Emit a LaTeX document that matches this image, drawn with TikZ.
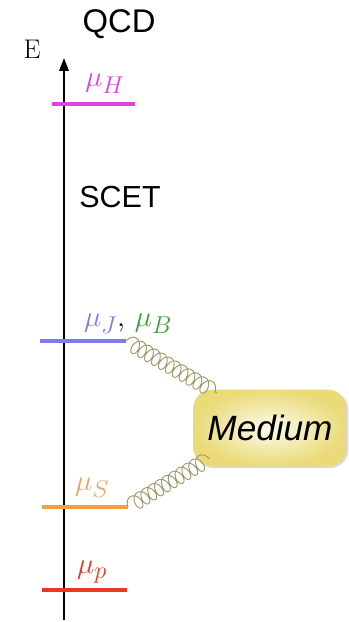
\documentclass[tikz,border=0pt]{standalone}
\usepackage{fontspec}
\setsansfont{Liberation Sans}
\usetikzlibrary{decorations.pathmorphing,shadows,arrows.meta}
\definecolor{cH}{HTML}{DD44DD}
\definecolor{cJ}{HTML}{7C7CEC}
\definecolor{cB}{HTML}{38A038}
\definecolor{cS}{HTML}{F2A040}
\definecolor{cSt}{HTML}{F0A060}
\definecolor{cP}{HTML}{E83A22}
\definecolor{glu}{HTML}{9E9A6C}
\definecolor{medout}{HTML}{EADA78}
\definecolor{medin}{HTML}{FDFBEA}
\begin{document}
\begin{tikzpicture}[x=0.03cm,y=-0.03cm,
  lvl/.style={line width=3pt},
  lab/.style={inner sep=0pt,font=\fontsize{32}{32}\selectfont},
  word/.style={inner sep=0pt,font=\sffamily\fontsize{26}{26}\selectfont},
  gluon/.style={glu,line width=0.8pt,decorate,decoration={coil,aspect=0.7,segment length=6.8pt,amplitude=6.6pt}},
  medium/.style={rounded corners=16pt,inner sep=0pt,
     shading=radial,inner color=medin,outer color=medout,
     drop shadow={shadow xshift=1.5pt,shadow yshift=-1.5pt,opacity=0.3},
     font=\sffamily\itshape\fontsize{30}{30}\selectfont}]
\useasboundingbox (0,0) rectangle (349,622);
% axis
\coordinate (bot) at (64,620);
\coordinate (top) at (64,58);
\draw[line width=1.6pt,-{Triangle[length=11pt,width=8pt]}] (bot) -- (top);
\node[font=\fontsize{23}{23}\selectfont,inner sep=0pt] (E) at (32,49) {E};
\node[word,font=\sffamily\fontsize{28}{28}\selectfont] (qcd) at (119,24) {QCD};
\node[word] (scet) at (120,197) {SCET};
% levels
\coordinate (hL) at (52,104); \coordinate (hR) at (135,104);
\draw[lvl,draw=cH] (hL) -- (hR);
\node[lab,text=cH] (muH) at (105,84) {$\mu_H$};
\coordinate (jL) at (40,341); \coordinate (jR) at (126,341);
\draw[lvl,draw=cJ] (jL) -- (jR);
\node[lab] (muJB) at (128,324) {$\textcolor{cJ}{\mu_J},\,\textcolor{cB}{\mu_B}$};
\coordinate (sL) at (42,507); \coordinate (sR) at (128,507);
\draw[lvl,draw=cS] (sL) -- (sR);
\node[lab,text=cSt] (muS) at (92,488) {$\mu_S$};
\coordinate (pL) at (42,590); \coordinate (pR) at (127,590);
\draw[lvl,draw=cP] (pL) -- (pR);
\node[lab,text=cP] (mup) at (92,572) {$\mu_p$};
% medium
\node[medium,minimum width=4.6cm,minimum height=2.3cm] (med) at (270,428) {Medium};
\coordinate (g1) at (217,393);
\coordinate (g2) at (210,458);
\draw[gluon] (jR) -- (g1);
\draw[gluon] (sR) -- (g2);
\end{tikzpicture}
\end{document}
